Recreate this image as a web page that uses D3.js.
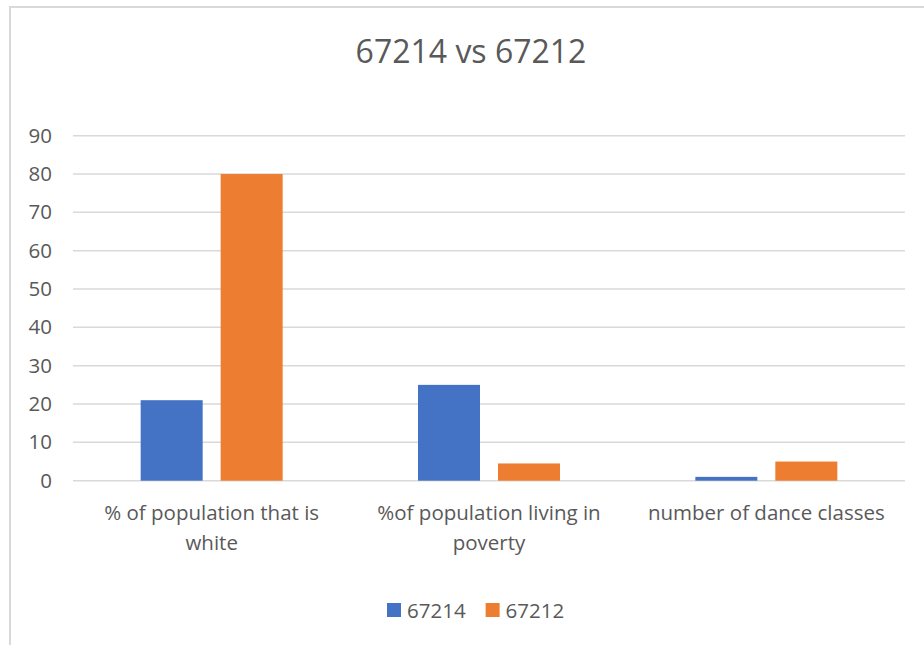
<!DOCTYPE html>
<html>
<head>
<meta charset="utf-8">
<script src="https://cdn.jsdelivr.net/npm/d3@7"></script>
<style>
  body { margin: 0; background: #fff; }
  text { font-family: "Open Sans", sans-serif; fill: #595959; }
</style>
</head>
<body>
<div id="chart"></div>
<script>
var WIDTH = 924, HEIGHT = 645;

var TITLE = '67214 vs 67212';
var CATEGORIES = ['% of population that is white', '%of population living in poverty', 'number of dance classes'];
var SERIES = ['67214', '67212'];
var VALUES_67214 = [21, 25, 1];
var VALUES_67212 = [80, 4.5, 5];
var Y_TICKS = [0, 10, 20, 30, 40, 50, 60, 70, 80, 90];
var COLORS = ['#4472C4', '#ED7D31'];

var seriesValues = [VALUES_67214, VALUES_67212];
var margin = {left: 73, right: 19, top: 135.7, bottom: 164.3};

var svg = d3.select('#chart').append('svg')
    .attr('width', WIDTH)
    .attr('height', HEIGHT);

// chart frame (cut off on the right and bottom like the screenshot)
svg.append('rect')
    .attr('x', 10).attr('y', 7)
    .attr('width', WIDTH + 20).attr('height', HEIGHT + 20)
    .attr('fill', 'none')
    .attr('stroke', '#d9d9d9')
    .attr('stroke-width', 2);

svg.append('text')
    .attr('x', 471).attr('y', 63)
    .attr('text-anchor', 'middle')
    .style('font-size', '32px')
    .text(TITLE);

var x0 = d3.scaleBand()
    .domain(CATEGORIES)
    .range([margin.left, WIDTH - margin.right]);

var x1 = d3.scaleBand()
    .domain(SERIES)
    .range([0, x0.bandwidth()])
    .paddingInner(0.225)
    .paddingOuter(0.846);

var y = d3.scaleLinear()
    .domain([0, 90])
    .range([HEIGHT - margin.bottom, margin.top]);

// gridlines
svg.append('g').selectAll('line')
    .data(Y_TICKS).enter()
    .append('line')
    .attr('x1', margin.left).attr('x2', WIDTH - margin.right)
    .attr('y1', function(d){ return y(d); })
    .attr('y2', function(d){ return y(d); })
    .attr('stroke', '#d9d9d9')
    .attr('stroke-width', 1.5);

// y axis labels
var yAxis = svg.append('g')
    .attr('transform', 'translate(52,0)')
    .call(d3.axisLeft(y).tickValues(Y_TICKS).tickSize(0).tickPadding(0));
yAxis.select('.domain').remove();
yAxis.selectAll('text')
    .attr('font-family', null)
    .attr('font-size', null)
    .style('font-size', '20.5px')
    .style('fill', '#595959');

// bars
var groups = svg.append('g').selectAll('g')
    .data(CATEGORIES).enter()
    .append('g')
    .attr('transform', function(d){ return 'translate(' + x0(d) + ',0)'; });

groups.selectAll('rect')
    .data(function(d, i){
        return SERIES.map(function(s, j){ return {series: s, value: seriesValues[j][i], k: j}; });
    }).enter()
    .append('rect')
    .attr('x', function(d){ return x1(d.series); })
    .attr('width', x1.bandwidth())
    .attr('y', function(d){ return y(d.value); })
    .attr('height', function(d){ return y(0) - y(d.value); })
    .attr('fill', function(d){ return COLORS[d.k]; });

// category labels with wrapping
var catLabels = svg.append('g').selectAll('text')
    .data(CATEGORIES).enter()
    .append('text')
    .attr('text-anchor', 'middle')
    .style('font-size', '20.5px')
    .attr('x', function(d){ return x0(d) + x0.bandwidth() / 2; })
    .attr('y', 520);

catLabels.each(function(d){
    var el = d3.select(this),
        words = d.split(' '),
        line = [],
        maxW = x0.bandwidth() * 0.93,
        cx = el.attr('x');
    var tspan = el.append('tspan').attr('x', cx).attr('dy', 0);
    words.forEach(function(w){
        line.push(w);
        tspan.text(line.join(' '));
        if (tspan.node().getComputedTextLength() > maxW && line.length > 1){
            line.pop();
            tspan.text(line.join(' '));
            line = [w];
            tspan = el.append('tspan').attr('x', cx).attr('dy', 30).text(w);
        }
    });
});

// legend
var legend = svg.append('g');
var lx = 387;
SERIES.forEach(function(s, i){
    legend.append('rect')
        .attr('x', lx).attr('y', 603)
        .attr('width', 14).attr('height', 14)
        .attr('fill', COLORS[i]);
    var t = legend.append('text')
        .attr('x', lx + 20).attr('y', 618)
        .style('font-size', '20.5px')
        .text(s);
    lx += 20 + t.node().getComputedTextLength() + 20;
});
</script>
</body>
</html>
